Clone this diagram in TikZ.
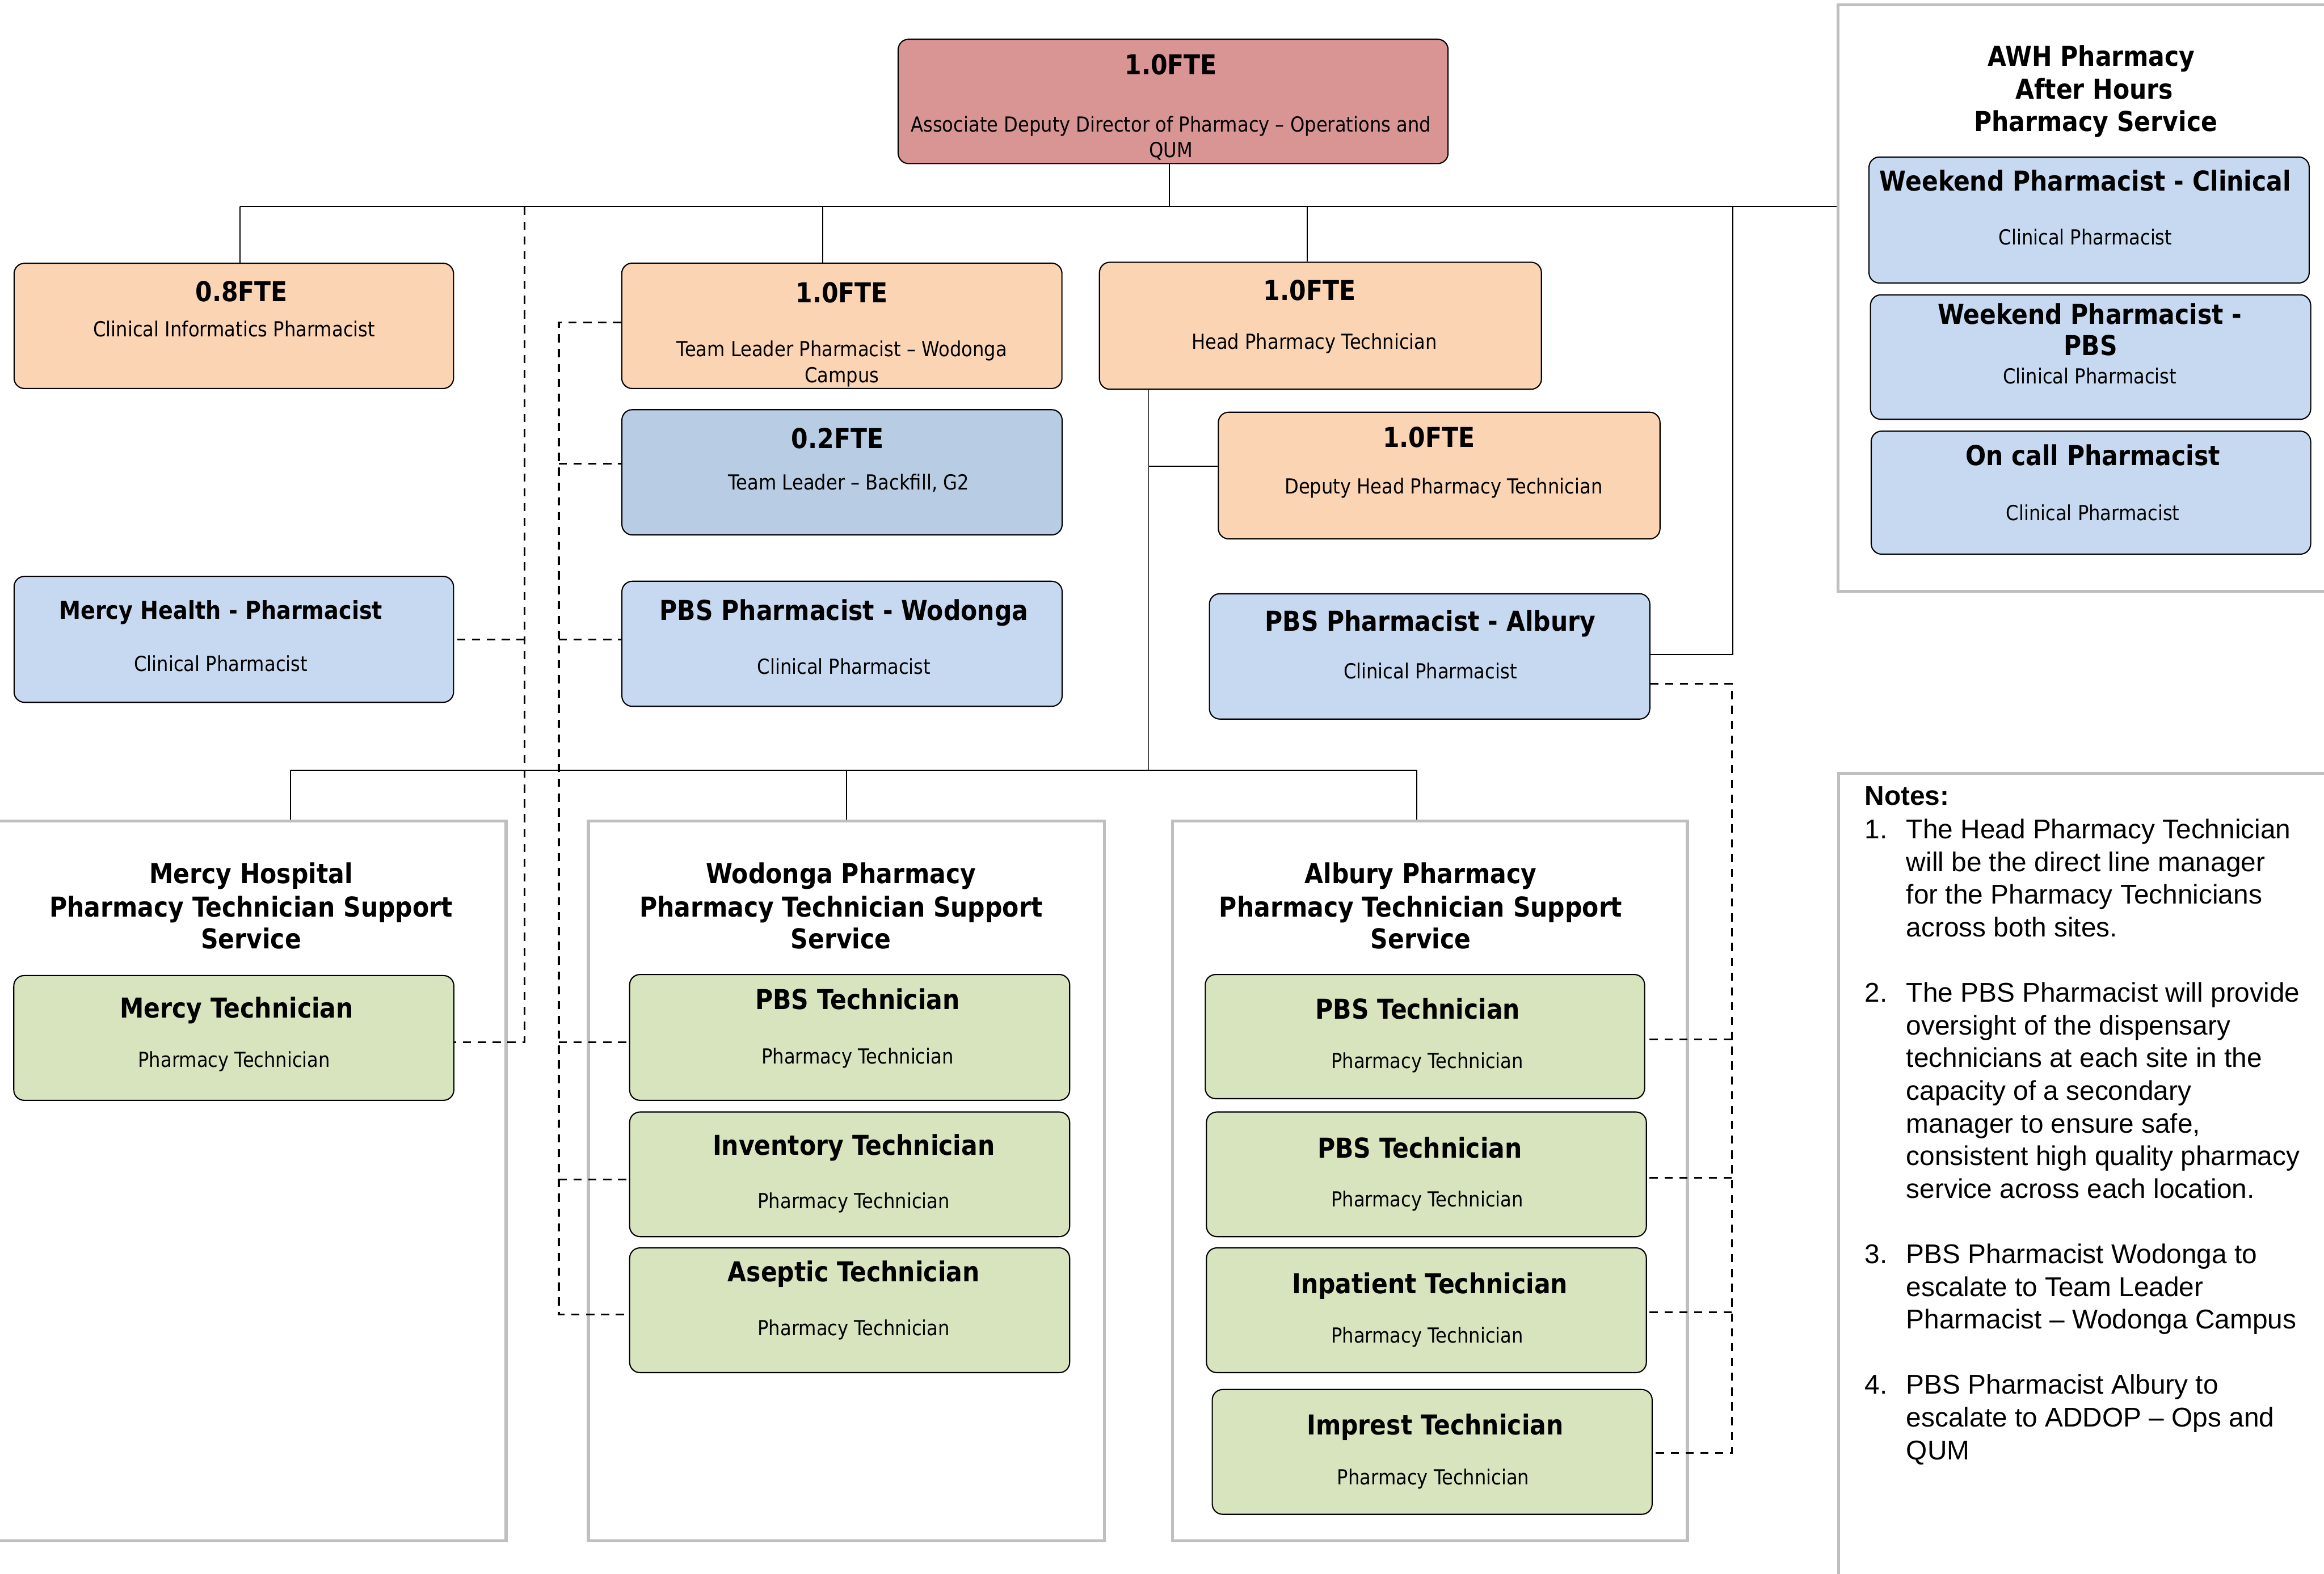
\documentclass[tikz,border=0pt]{standalone}
\usepackage{fontspec}
\setmainfont{DejaVu Sans}[FakeStretch=0.88]
\newfontfamily\notesfont{Liberation Sans}
\usetikzlibrary{fit}
\definecolor{redf}{HTML}{D99594}
\definecolor{peach}{HTML}{FBD4B4}
\definecolor{bluel}{HTML}{C6D9F1}
\definecolor{blued}{HTML}{B8CCE4}
\definecolor{greenf}{HTML}{D7E4BD}
\definecolor{grpgray}{HTML}{BFBFBF}
\tikzset{
  obox/.style={draw=black, line width=0.8pt, rounded corners=7pt, inner sep=0pt},
  grp/.style={draw=grpgray, line width=2pt, inner sep=0pt},
  tx/.style={inner sep=0pt, font=\fontsize{14}{16}\selectfont, text height=10.2pt, text depth=0pt},
  bx/.style={inner sep=0pt, font=\bfseries\fontsize{18.5}{22}\selectfont, text height=13.5pt, text depth=0pt},
  bxs/.style={inner sep=0pt, font=\bfseries\fontsize{16.6}{20}\selectfont, text height=12.1pt, text depth=0pt},
  nt/.style={inner sep=0pt, font=\notesfont\fontsize{18.3}{22}\selectfont, text height=13.1pt, text depth=0pt, anchor=west},
  ln/.style={line width=0.7pt},
  dl/.style={line width=1.3pt, dash pattern=on 5.5pt off 4.5pt},
}
\begin{document}
\begin{tikzpicture}[x=1pt,y=-1pt]
\fill[white] (0,0) rectangle (1568,1062);
\useasboundingbox (0,0) rectangle (1568,1062);

% group frames
\node[grp, fit={(-3,554) (341.5,1040)}] (gm) {};
\node[grp, fit={(397,554) (745,1040)}] (gw) {};
\node[grp, fit={(791,554) (1138.5,1040)}] (ga) {};
\node[grp, fit={(1240,3.2) (1580,399)}] (awh) {};
\node[grp, fit={(1240.6,522) (1580,1075)}] (notes) {};

% boxes
\node[obox, fill=redf,  fit={(606,26.5) (977,110.4)}] (top) {};
\node[obox, fill=peach, fit={(9.5,177.7) (306,262.2)}] (ci) {};
\node[obox, fill=peach, fit={(419.5,177.6) (716.5,262.2)}] (tl) {};
\node[obox, fill=peach, fit={(741.8,177) (1040,262.7)}] (hd) {};
\node[obox, fill=blued, fit={(419.6,276.5) (716.6,361)}] (bf) {};
\node[obox, fill=peach, fit={(822,278.2) (1120,363.7)}] (dp) {};
\node[obox, fill=bluel, fit={(9.5,389) (306,474)}] (mh) {};
\node[obox, fill=bluel, fit={(419.6,392.3) (716.6,476.7)}] (pw) {};
\node[obox, fill=bluel, fit={(816,400.7) (1113.1,485.3)}] (pa) {};
\node[obox, fill=greenf, fit={(9.3,658.4) (306.2,742.6)}] (mt) {};
\node[obox, fill=greenf, fit={(424.8,657.7) (721.7,742.6)}] (wt1) {};
\node[obox, fill=greenf, fit={(424.8,750.5) (721.7,834.6)}] (wt2) {};
\node[obox, fill=greenf, fit={(424.8,842.2) (721.7,926.4)}] (wt3) {};
\node[obox, fill=greenf, fit={(813.2,657.7) (1109.6,741.5)}] (at1) {};
\node[obox, fill=greenf, fit={(814,750.5) (1110.8,834.6)}] (at2) {};
\node[obox, fill=greenf, fit={(814,842.2) (1110.8,926.4)}] (at3) {};
\node[obox, fill=greenf, fit={(817.9,937.8) (1114.7,1022)}] (at4) {};
\node[obox, fill=bluel, fit={(1261,106) (1558,191)}] (aw1) {};
\node[obox, fill=bluel, fit={(1262,199) (1559,283)}] (aw2) {};
\node[obox, fill=bluel, fit={(1262.5,291) (1559,374)}] (aw3) {};

% solid connectors
\coordinate (bt) at (789,139.5);
\coordinate (b1) at (162,139.5);
\coordinate (b2) at (555,139.5);
\coordinate (b3) at (882,139.5);
\coordinate (b5) at (1169,139.5);
\draw[ln] (bt |- top.south) -- (bt);
\draw[ln] (b1) -- (b1 -| awh.west);
\draw[ln] (b1) -- (b1 |- ci.north);
\draw[ln] (b2) -- (b2 |- tl.north);
\draw[ln] (b3) -- (b3 |- hd.north);
\coordinate (pr) at (1169,441.8);
\draw[ln] (b5) -- (pr) -- (pr -| pa.east);
\coordinate (v1) at (775,520);
\coordinate (d1) at (775,314.8);
\draw[ln] (v1 |- hd.south) -- (v1);
\draw[ln] (d1) -- (d1 -| dp.west);
\coordinate (lb) at (196,520);
\coordinate (mb) at (571,520);
\coordinate (rb) at (956,520);
\draw[ln] (lb) -- (rb);
\draw[ln] (lb) -- (lb |- gm.north);
\draw[ln] (mb) -- (mb |- gw.north);
\draw[ln] (rb) -- (rb |- ga.north);

% dashed connectors A (Mercy)
\coordinate (da) at (354,139.5);
\coordinate (da1) at (354,431.6);
\coordinate (da2) at (354,703.4);
\draw[dl] (da) -- (da2) -- (da2 -| mt.east);
\draw[dl] (da1) -- (da1 -| mh.east);

% dashed connectors B (Wodonga)
\coordinate (db0) at (377,217.7);
\coordinate (db1) at (377,313);
\coordinate (db2) at (377,431.6);
\coordinate (db3) at (377,703.4);
\coordinate (db4) at (377,796.1);
\coordinate (db5) at (377,887.1);
\draw[dl] (db0 -| tl.west) -- (db0) -- (db5) -- (db5 -| wt3.west);
\draw[dl] (db1) -- (db1 -| bf.west);
\draw[dl] (db2) -- (db2 -| pw.west);
\draw[dl] (db3) -- (db3 -| wt1.west);
\draw[dl] (db4) -- (db4 -| wt2.west);

% dashed connectors C (Albury)
\coordinate (dc0) at (1168.5,461.4);
\coordinate (dc1) at (1168.5,701.6);
\coordinate (dc2) at (1168.5,794.8);
\coordinate (dc3) at (1168.5,885.7);
\coordinate (dc4) at (1168.5,980.6);
\draw[dl] (dc0 -| pa.east) -- (dc0) -- (dc4) -- (dc4 -| at4.east);
\draw[dl] (dc1) -- (dc1 -| at1.east);
\draw[dl] (dc2) -- (dc2 -| at2.east);
\draw[dl] (dc3) -- (dc3 -| at3.east);

% texts
\node[bx] (t1a) at (790,43.5) {1.0FTE};
\node[tx] (t1b) at (790,84) {Associate Deputy Director of Pharmacy – Operations and};
\node[tx] (t1c) at (790,101) {QUM};
\node[bx] (t2a) at (163,196.8) {0.8FTE};
\node[tx] (t2b) at (158,222) {Clinical Informatics Pharmacist};
\node[bx] (t3a) at (568,197.4) {1.0FTE};
\node[tx] (t3b) at (568,235.5) {Team Leader Pharmacist – Wodonga};
\node[tx] (t3c) at (568,253) {Campus};
\node[bx] (t4a) at (883.6,195.8) {1.0FTE};
\node[tx] (t4b) at (886.8,230.7) {Head Pharmacy Technician};
\node[bx] (t5a) at (565,296) {0.2FTE};
\node[tx] (t5b) at (572.6,325.3) {Team Leader – Backfill, G2};
\node[bx] (t6a) at (964,295) {1.0FTE};
\node[tx] (t6b) at (974,328) {Deputy Head Pharmacy Technician};
\node[bxs] (t7a) at (149,411.6) {Mercy Health - Pharmacist};
\node[tx] (t7b) at (149,448) {Clinical Pharmacist};
\node[bx] (t8a) at (569.4,412) {PBS Pharmacist - Wodonga};
\node[tx] (t8b) at (569.4,449.7) {Clinical Pharmacist};
\node[bx] (t9a) at (965,419) {PBS Pharmacist - Albury};
\node[tx] (t9b) at (965,453) {Clinical Pharmacist};

\node[bx] (gm1) at (169.4,589.4) {Mercy Hospital};
\node[bx] (gm2) at (169.4,612) {Pharmacy Technician Support};
\node[bx] (gm3) at (169.4,633.6) {Service};
\node[bx] (gw1) at (567.4,589.4) {Wodonga Pharmacy};
\node[bx] (gw2) at (567.4,612) {Pharmacy Technician Support};
\node[bx] (gw3) at (567.4,633.6) {Service};
\node[bx] (ga1) at (958.6,589.4) {Albury Pharmacy};
\node[bx] (ga2) at (958.6,612) {Pharmacy Technician Support};
\node[bx] (ga3) at (958.6,633.6) {Service};

\node[bx] (tma) at (159.7,680.3) {Mercy Technician};
\node[tx] (tmb) at (158,715.2) {Pharmacy Technician};
\node[bx] (w1a) at (578.6,674.5) {PBS Technician};
\node[tx] (w1b) at (578.6,712.7) {Pharmacy Technician};
\node[bx] (w2a) at (576,772.8) {Inventory Technician};
\node[tx] (w2b) at (576,810.4) {Pharmacy Technician};
\node[bx] (w3a) at (576,858.3) {Aseptic Technician};
\node[tx] (w3b) at (576,896.2) {Pharmacy Technician};
\node[bx] (a1a) at (956.6,681) {PBS Technician};
\node[tx] (a1b) at (963,716) {Pharmacy Technician};
\node[bx] (a2a) at (958,774.6) {PBS Technician};
\node[tx] (a2b) at (963,809.5) {Pharmacy Technician};
\node[bx] (a3a) at (964.7,866.3) {Inpatient Technician};
\node[tx] (a3b) at (963,901.2) {Pharmacy Technician};
\node[bx] (a4a) at (968.3,961.6) {Imprest Technician};
\node[tx] (a4b) at (967,996.8) {Pharmacy Technician};

\node[bx] (h1) at (1411,38) {AWH Pharmacy};
\node[bx] (h2) at (1413,60) {After Hours};
\node[bx] (h3) at (1414,82) {Pharmacy Service};
\node[bx] (k1a) at (1407,122) {Weekend Pharmacist - Clinical};
\node[tx] (k1b) at (1407,160) {Clinical Pharmacist};
\node[bx] (k2a) at (1410,212) {Weekend Pharmacist -};
\node[bx] (k2b) at (1410.5,233) {PBS};
\node[tx] (k2c) at (1410,254) {Clinical Pharmacist};
\node[bx] (k3a) at (1412,307.5) {On call Pharmacist};
\node[tx] (k3b) at (1412,346) {Clinical Pharmacist};

% notes
\node[nt, font=\notesfont\bfseries\fontsize{18.3}{22}\selectfont] (nh) at (1258,537) {Notes:};
\node[nt] (nn1) at (1258,559.5) {1.};
\node[nt] (nn2) at (1258,669.75) {2.};
\node[nt] (nn3) at (1258,846.15) {3.};
\node[nt] (nn4) at (1258,934.35) {4.};
\foreach \k/\t in {0/{The Head Pharmacy Technician},
  1/{will be the direct line manager},
  2/{for the Pharmacy Technicians},
  3/{across both sites.},
  5/{The PBS Pharmacist will provide},
  6/{oversight of the dispensary},
  7/{technicians at each site in the},
  8/{capacity of a secondary},
  9/{manager to ensure safe,},
  10/{consistent high quality pharmacy},
  11/{service across each location.},
  13/{PBS Pharmacist Wodonga to},
  14/{escalate to Team Leader},
  15/{Pharmacist – Wodonga Campus},
  17/{PBS Pharmacist Albury to},
  18/{escalate to ADDOP – Ops and},
  19/{QUM}}
  \node[nt] (nl\k) at (1286,{559.5+22.05*\k}) {\t};
\end{tikzpicture}
\end{document}
